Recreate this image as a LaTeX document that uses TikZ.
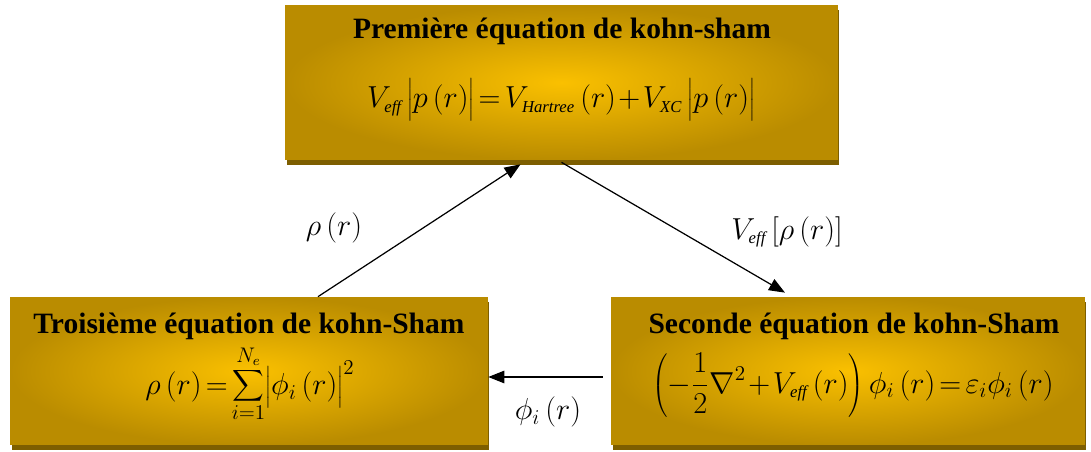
\documentclass[tikz,border=0pt]{standalone}
\usepackage{fontspec}
\setmainfont{Liberation Serif}
\usetikzlibrary{shadows,arrows.meta}

\definecolor{goldlight}{RGB}{250,192,0}
\definecolor{golddark}{RGB}{186,140,0}
\definecolor{goldshadow}{RGB}{125,94,0}

\newcommand{\kstight}{\medmuskip=1.5mu \thickmuskip=2.5mu }
\newcommand{\kssub}[1]{\mbox{\fontsize{9.5}{10}\selectfont\itshape #1}}

\tikzset{
  ksbox/.style={rectangle, inner color=goldlight, outer color=golddark,
    drop shadow={shadow xshift=0.03cm, shadow yshift=-0.1cm, fill=goldshadow, opacity=1}},
  kstitle/.style={font=\bfseries\fontsize{16.8}{20}\selectfont},
  kseq/.style={font=\fontsize{16.5}{20}\selectfont\kstight},
  kslabel/.style={font=\fontsize{16.5}{20}\selectfont},
  ksarrow/.style={line width=0.7pt, -{Triangle[length=3.2mm,width=2.5mm]}}
}

\begin{document}
\begin{tikzpicture}[x=0.02cm, y=-0.02cm]
        \useasboundingbox (0,0) rectangle (1091,452);

        % the three boxes
        \node[ksbox, minimum width=11.06cm, minimum height=3.1cm] (top) at (561.5,82.5) {};
        \node[ksbox, minimum width=9.56cm, minimum height=2.96cm] (left) at (249,371) {};
        \node[ksbox, minimum width=9.48cm, minimum height=2.96cm] (right) at (848,371) {};

        \node[kstitle] (toptitle) at (562,31) {Première équation de kohn-sham};
        \node[kseq] (topeq) at (561,100)
        {$V_{\kssub{eff}}\,\biggl|p\left(r\right)\biggr|=V_{\kssub{Hartree}}\left(r\right)+V_{\kssub{XC}}\,\biggl|p\left(r\right)\biggr|$};

        \node[kstitle] (lefttitle) at (249,326) {Troisième équation de kohn-Sham};
        \node[kseq] (lefteq) at (250,384)
        {$\rho\left(r\right)=\mathop{\scalebox{1.25}{$\displaystyle\sum$}}\limits_{i=1}^{N_e}\biggl|\phi_i\left(r\right)\biggr|^{2}$};

        \node[kstitle] (righttitle) at (854,326) {Seconde équation de kohn-Sham};
        \node[kseq] (righteq) at (853,385)
        {$\displaystyle\left(-\frac{1}{2}\nabla^2+V_{\kssub{eff}}\left(r\right)\right)\phi_i\left(r\right)=\varepsilon_i\phi_i\left(r\right)$};

        % the cycle
        \draw[ksarrow] ([xshift=1.38cm]left.north) -- ([xshift=-0.82cm,yshift=-0.08cm]top.south);
        \draw[ksarrow] ([yshift=-0.04cm]top.south) -- ([xshift=-1.26cm,yshift=0.08cm]right.north);
        \draw[ksarrow] ([xshift=-0.16cm,yshift=-0.12cm]right.west) -- ([yshift=-0.12cm]left.east);

        \node[kslabel] (rholabel) at (334,228) {$\rho\left(r\right)$};
        \node[kslabel] (vefflabel) at (787,232) {$V_{\kssub{eff}}\left[\rho\left(r\right)\right]$};
        \node[kslabel] (philabel) at (548,412) {$\phi_i\left(r\right)$};
    \end{tikzpicture}
\end{document}
